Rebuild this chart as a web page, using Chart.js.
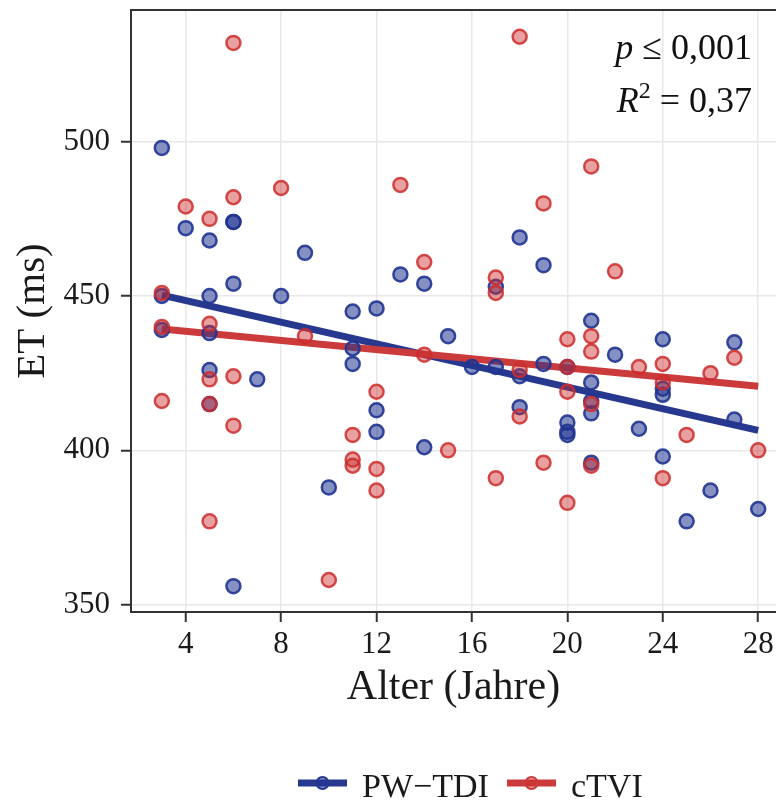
<!DOCTYPE html>
<html>
<head>
<meta charset="utf-8">
<script src="https://cdn.jsdelivr.net/npm/chart.js@4/dist/chart.umd.min.js"></script>
<style>
    body { margin: 0; background: #fff; }
    #wrap { width: 776px; height: 800px; }
</style>
</head>
<body>
<div id="wrap"><canvas id="etChart" width="776" height="800"></canvas></div>
<script>
// PW-TDI (blue) - age in years and ET in ms
const pwAges = [3, 3, 3, 4, 5, 5, 5, 5, 5, 6, 6, 6, 6, 7, 8, 9, 10, 11, 11, 11, 12, 12, 12, 13, 14, 14, 15, 16, 17, 17,
    18, 18, 18, 19, 19, 20, 20, 20, 20, 21, 21, 21, 21, 21, 22, 23, 24, 24, 24, 24, 25, 26, 27, 27, 28];
const pwET = [498, 450, 439, 472, 468, 450, 438, 426, 415, 474, 474, 454, 356, 423, 450, 464, 388, 445, 433, 428, 446, 413, 406, 457, 454, 401, 437, 427, 453, 427,
    469, 424, 414, 460, 428, 427, 409, 406, 405, 442, 422, 416, 412, 396, 431, 407, 436, 420, 418, 398, 377, 387, 435, 410, 381];

// cTVI (red)
const ctAges = [3, 3, 3, 4, 5, 5, 5, 5, 5, 6, 6, 6, 6, 8, 9, 10, 11, 11, 11, 12, 12, 12, 13, 14, 14, 15, 17, 17, 17,
    18, 18, 18, 19, 19, 20, 20, 20, 20, 21, 21, 21, 21, 21, 22, 23, 24, 24, 24, 25, 26, 27, 28];
const ctET = [451, 440, 416, 479, 475, 441, 423, 415, 377, 532, 482, 424, 408, 485, 437, 358, 405, 397, 395, 419, 394, 387, 486, 461, 431, 400, 456, 451, 391,
    534, 426, 411, 480, 396, 436, 427, 419, 383, 492, 437, 432, 415, 395, 458, 427, 428, 422, 391, 405, 425, 430, 400];

// regression lines, read at both ends
const fitAges = [3, 28];
const pwFit = [450.3, 406.5];
const ctFit = [439.3, 420.8];

const xTicks = [4, 8, 12, 16, 20, 24, 28];
const yTicks = [350, 400, 450, 500];

const blue = '#27388f';
const red = '#cc3b3b';
const serif = '"Liberation Serif", "Times New Roman", serif';

function toPoints(xs, ys) {
    return xs.map((x, i) => ({ x: x, y: ys[i] }));
}

// no extra room for labels: the plot fills to the edges like the original
function noPad(s) {
    s.paddingTop = 0;
    s.paddingBottom = 0;
    s.paddingLeft = 0;
    s.paddingRight = 0;
}

// frame top line, stats text and the legend
const extras = {
    id: 'extras',
    afterDraw(chart) {
        const ctx = chart.ctx;
        const area = chart.chartArea;
        ctx.save();
        ctx.strokeStyle = '#333';
        ctx.lineWidth = 2;
        ctx.beginPath();
        ctx.moveTo(area.left, area.top);
        ctx.lineTo(area.right, area.top);
        ctx.stroke();

        // p and R^2 text, right aligned
        ctx.fillStyle = '#111';
        ctx.textBaseline = 'alphabetic';
        const rightX = 752;
        function drawParts(parts, y) {
            let total = 0;
            parts.forEach(p => { ctx.font = p.font; total += ctx.measureText(p.text).width; });
            let x = rightX - total;
            parts.forEach(p => {
                ctx.font = p.font;
                ctx.fillText(p.text, x, y + (p.dy || 0));
                x += ctx.measureText(p.text).width;
            });
        }
        drawParts([
            { text: 'p', font: 'italic 36px ' + serif },
            { text: ' \u2264 0,001', font: '36px ' + serif }
        ], 59);
        drawParts([
            { text: 'R', font: 'italic 36px ' + serif },
            { text: '2', font: '24px ' + serif, dy: -14 },
            { text: ' = 0,37', font: '36px ' + serif }
        ], 112);

        // legend
        const legendY = 783;
        const items = [
            { label: 'PW\u2212TDI', color: blue, fill: 'rgba(33,52,145,0.55)', x: 298 },
            { label: 'cTVI', color: red, fill: 'rgba(205,45,45,0.45)', x: 507 }
        ];
        items.forEach(it => {
            ctx.strokeStyle = it.color;
            ctx.lineWidth = 7;
            ctx.beginPath();
            ctx.moveTo(it.x, legendY);
            ctx.lineTo(it.x + 49, legendY);
            ctx.stroke();
            ctx.beginPath();
            ctx.arc(it.x + 24.5, legendY, 6, 0, Math.PI * 2);
            ctx.fillStyle = it.fill;
            ctx.fill();
            ctx.lineWidth = 2;
            ctx.stroke();
            ctx.fillStyle = '#1a1a1a';
            ctx.font = '34px ' + serif;
            ctx.fillText(it.label, it.x + 64, 797);
        });
        ctx.restore();
    }
};

const ctx = document.getElementById('etChart').getContext('2d');
new Chart(ctx, {
    type: 'scatter',
    data: {
        datasets: [
            {
                label: 'cTVI',
                data: toPoints(ctAges, ctET),
                backgroundColor: 'rgba(205,45,45,0.45)',
                borderColor: 'rgba(205,45,45,0.85)',
                borderWidth: 2.5,
                pointRadius: 7,
                order: 1
            },
            {
                label: 'PW-TDI',
                data: toPoints(pwAges, pwET),
                backgroundColor: 'rgba(33,52,145,0.55)',
                borderColor: 'rgba(33,52,145,0.9)',
                borderWidth: 2.5,
                pointRadius: 7,
                order: 2
            },
            {
                type: 'line',
                label: 'cTVI fit',
                data: toPoints(fitAges, ctFit),
                borderColor: red,
                borderWidth: 7,
                pointRadius: 0,
                order: 3
            },
            {
                type: 'line',
                label: 'PW-TDI fit',
                data: toPoints(fitAges, pwFit),
                borderColor: blue,
                borderWidth: 7,
                pointRadius: 0,
                order: 4
            }
        ]
    },
    options: {
        responsive: false,
        animation: false,
        layout: { autoPadding: false, padding: { top: 10, left: 0, right: 0, bottom: 0 } },
        plugins: {
            legend: { display: false },
            tooltip: { enabled: false }
        },
        scales: {
            x: {
                type: 'linear',
                min: 1.707,
                max: 28.746,
                afterBuildTicks: s => { s.ticks = xTicks.map(v => ({ value: v })); },
                afterFit: s => { s.height = 188; noPad(s); },
                grid: { color: '#e8e8e8', lineWidth: 1.5, tickColor: '#333', tickLength: 10, tickWidth: 2 },
                border: { color: '#333', width: 2 },
                ticks: { font: { family: serif, size: 31 }, color: '#1a1a1a', padding: 4, maxRotation: 0 },
                title: {
                    display: true,
                    text: 'Alter (Jahre)',
                    font: { family: serif, size: 42, lineHeight: 1 },
                    color: '#1a1a1a',
                    padding: { top: 0, bottom: 91 }
                }
            },
            y: {
                min: 347.63,
                max: 542.67,
                afterBuildTicks: s => { s.ticks = yTicks.map(v => ({ value: v })); },
                afterFit: s => { s.width = 131; noPad(s); },
                grid: { color: '#e8e8e8', lineWidth: 1.5, tickColor: '#333', tickLength: 10, tickWidth: 2 },
                border: { color: '#333', width: 2 },
                ticks: { font: { family: serif, size: 31 }, color: '#1a1a1a', padding: 11 },
                title: {
                    display: true,
                    text: 'ET (ms)',
                    font: { family: serif, size: 41, lineHeight: 1 },
                    color: '#1a1a1a',
                    padding: { top: 13, bottom: 0 }
                }
            }
        }
    },
    plugins: [extras]
});
</script>
</body>
</html>
